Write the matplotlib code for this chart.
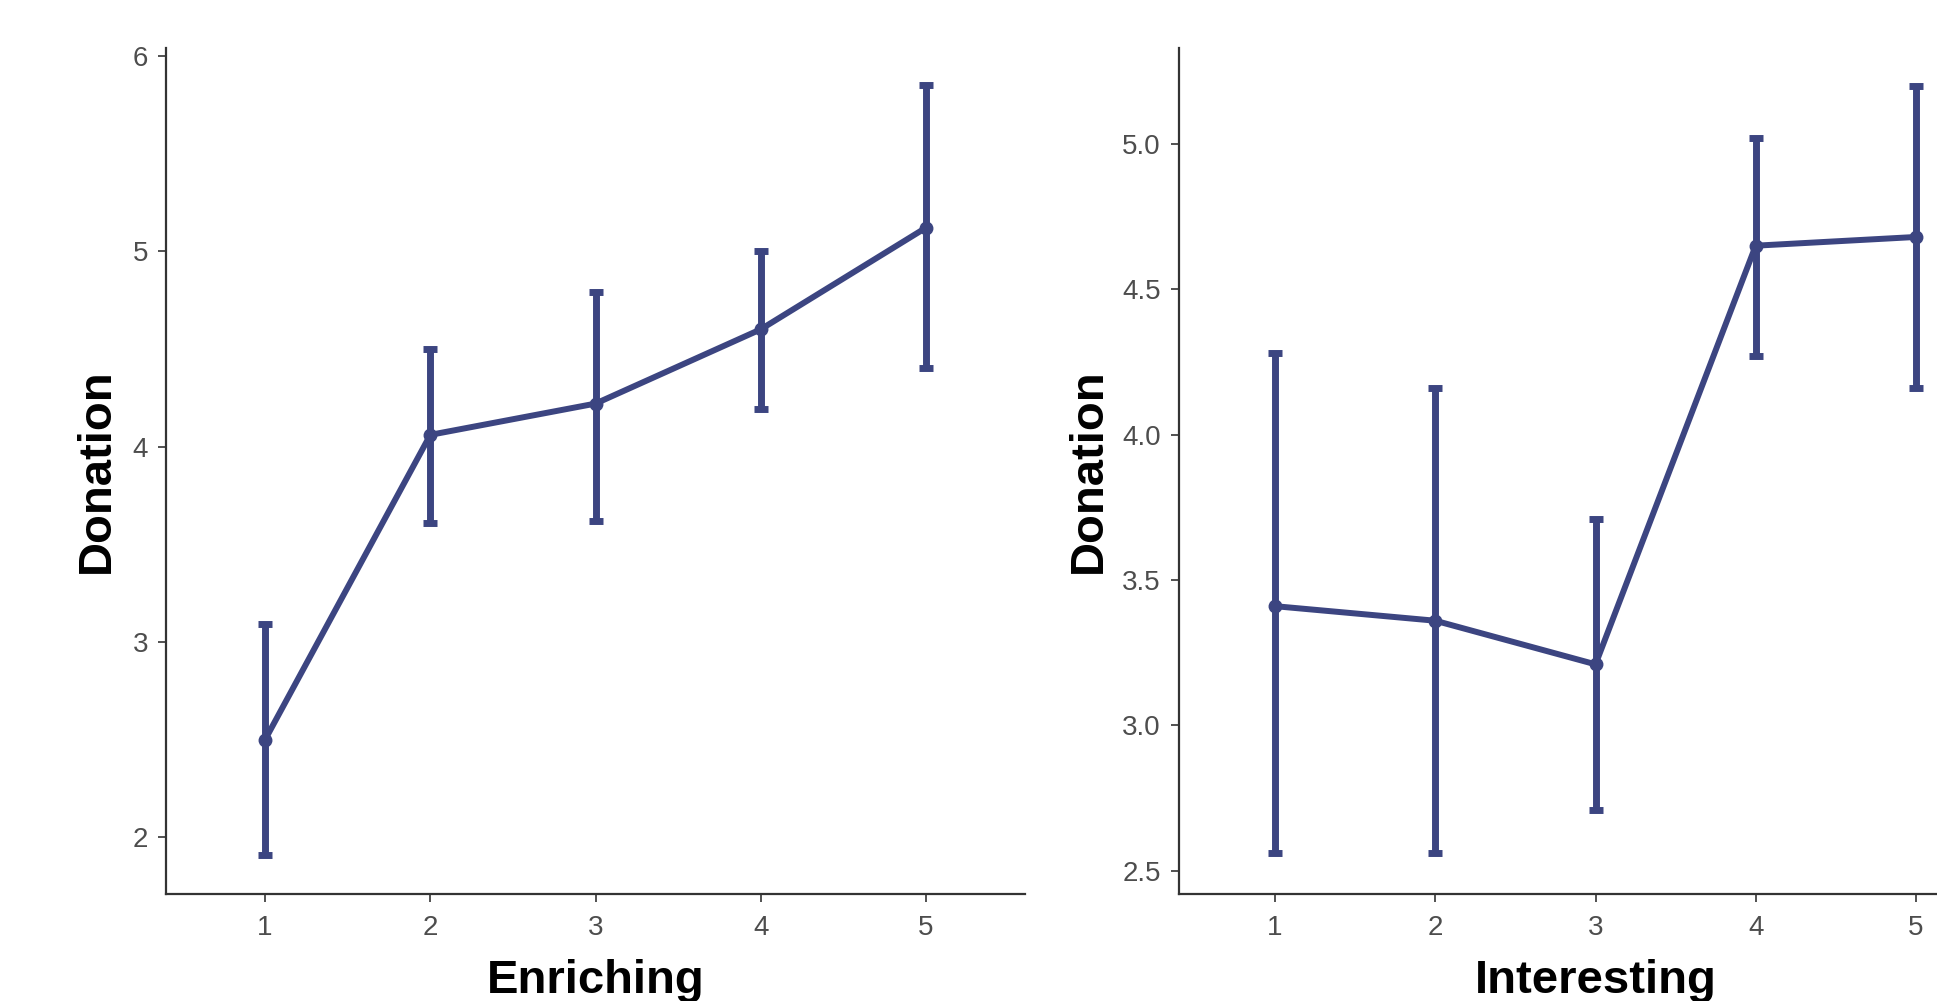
import matplotlib

matplotlib.use("Agg")

import matplotlib.pyplot as plt

NAVY = "#3C4581"
AXIS = "#333333"
TICK_TXT = "#4D4D4D"

levels = [1, 2, 3, 4, 5]

# Enriching panel
enr_mean = [2.50, 4.06, 4.22, 4.60, 5.12]
enr_low = [1.91, 3.61, 3.62, 4.19, 4.40]
enr_high = [3.09, 4.50, 4.79, 5.00, 5.85]

# Interesting panel
int_mean = [3.41, 3.36, 3.21, 4.65, 4.68]
int_low = [2.56, 2.56, 2.71, 4.27, 4.16]
int_high = [4.28, 4.16, 3.71, 5.02, 5.20]

plt.rcParams["font.family"] = ["Liberation Sans", "DejaVu Sans"]

fig = plt.figure(figsize=(19.37, 10.01), dpi=100)
fig.patch.set_facecolor("white")

W, H = 1937, 1001


def panel(rect_px, mean, low, high, xlabel, ylim, yticks, yfmt, ylab_x):
    x0, y0, x1, y1 = rect_px
    ax = fig.add_axes([x0 / W, 1 - y1 / H, (x1 - x0) / W, (y1 - y0) / H])
    yerr = [[m - l for m, l in zip(mean, low)], [h - m for m, h in zip(mean, high)]]
    ax.errorbar(levels, mean, yerr=yerr, color=NAVY, linewidth=4.3,
                elinewidth=5, capsize=5, capthick=5,
                marker="o", markersize=9, zorder=3)
    ax.set_xlim(0.4, 5.6)
    ax.set_ylim(*ylim)
    ax.set_xticks(levels)
    ax.set_yticks(yticks)
    ax.set_yticklabels([yfmt.format(t) for t in yticks])
    for s in ("top", "right"):
        ax.spines[s].set_visible(False)
    for s in ("bottom", "left"):
        ax.spines[s].set_color(AXIS)
        ax.spines[s].set_linewidth(1.6)
    ax.tick_params(colors=AXIS, labelcolor=TICK_TXT, labelsize=20,
                   length=6, width=1.2)
    ax.tick_params(axis="y", pad=7)
    ax.tick_params(axis="x", pad=9)
    ax.set_xlabel(xlabel, fontsize=34, fontweight="bold", color="black")
    ax.xaxis.set_label_coords(0.5, (y1 - 993) / (y1 - y0))
    ax.xaxis.label.set_va("baseline")
    ax.set_ylabel("Donation", fontsize=34, fontweight="bold", color="black")
    ax.yaxis.set_label_coords((ylab_x - x0) / (x1 - x0), 0.5)
    ax.yaxis.label.set_va("center")
    ax.yaxis.label.set_ha("center")
    return ax


panel((166, 48, 1025, 894), enr_mean, enr_low, enr_high, "Enriching",
      (1.71, 6.04), [2, 3, 4, 5, 6], "{:.0f}", 97)
panel((1179, 48, 2012, 894), int_mean, int_low, int_high, "Interesting",
      (2.42, 5.33), [2.5, 3.0, 3.5, 4.0, 4.5, 5.0], "{:.1f}", 1089)

fig.savefig("out.png", dpi=100, facecolor="white")
